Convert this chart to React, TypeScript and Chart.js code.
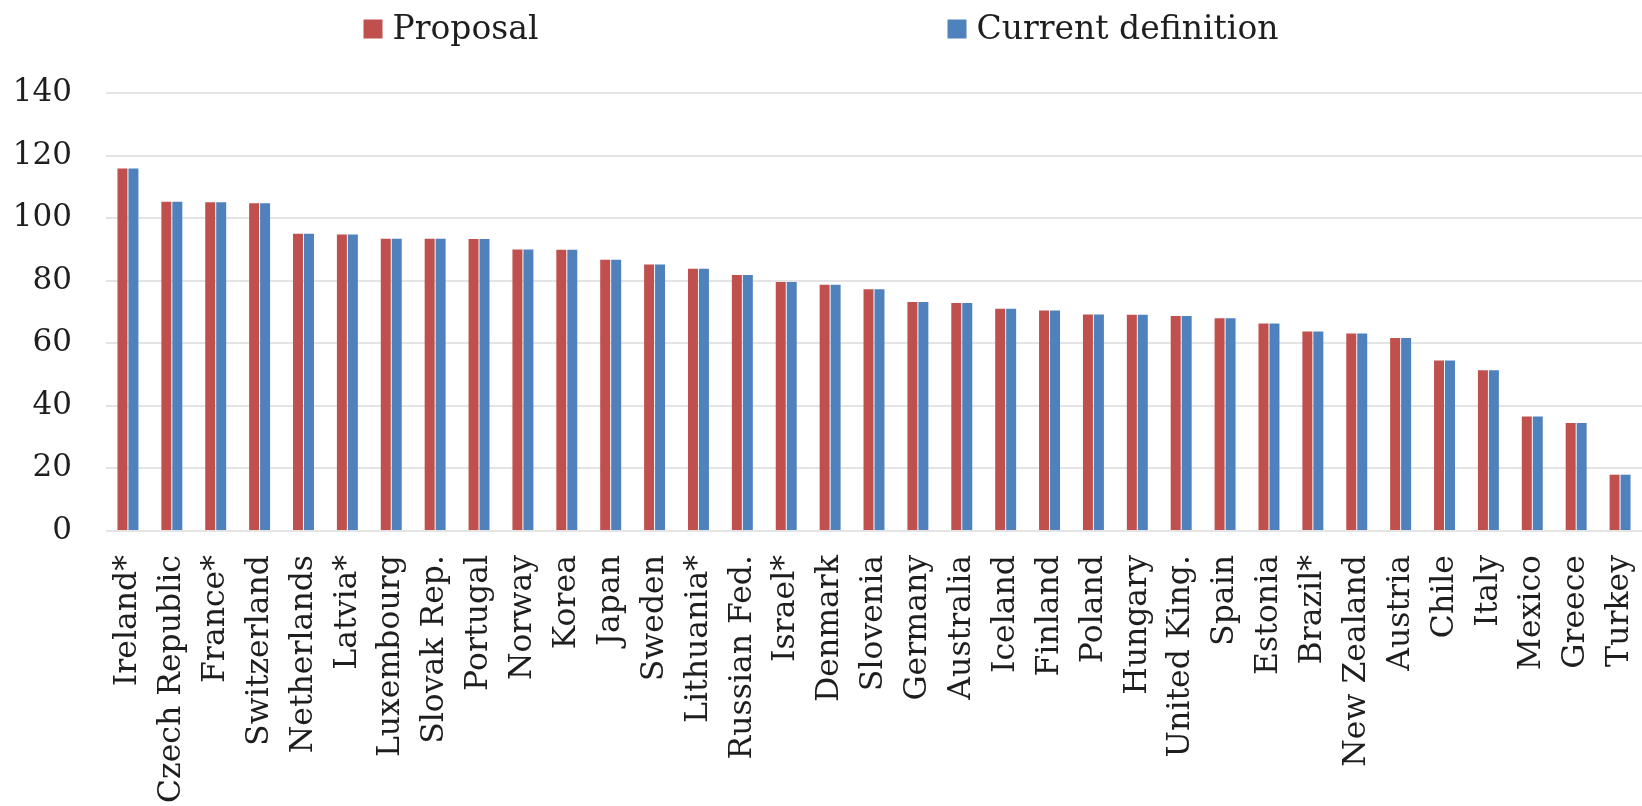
import React, { useEffect, useRef } from "react";
import { Chart, registerables } from "chart.js";

Chart.register(...registerables);

const categories: string[] = [
  "Ireland*", "Czech Republic", "France*", "Switzerland", "Netherlands", "Latvia*",
  "Luxembourg", "Slovak Rep.", "Portugal", "Norway", "Korea", "Japan", "Sweden",
  "Lithuania*", "Russian Fed.", "Israel*", "Denmark", "Slovenia", "Germany",
  "Australia", "Iceland", "Finland", "Poland", "Hungary", "United King.", "Spain",
  "Estonia", "Brazil*", "New Zealand", "Austria", "Chile", "Italy", "Mexico",
  "Greece", "Turkey",
];

const proposal: number[] = [
  115.9, 105.2, 105.1, 104.8, 95.0, 94.8, 93.4, 93.4, 93.3, 90.0, 89.9, 86.7, 85.2,
  83.8, 81.8, 79.6, 78.7, 77.3, 73.2, 72.9, 71.0, 70.5, 69.2, 69.1, 68.7, 68.0,
  66.3, 63.8, 63.1, 61.7, 54.5, 51.4, 36.6, 34.5, 18.0,
];

const currentDefinition: number[] = [
  115.9, 105.2, 105.1, 104.8, 95.0, 94.8, 93.4, 93.4, 93.3, 90.0, 89.9, 86.7, 85.2,
  83.8, 81.8, 79.6, 78.7, 77.3, 73.2, 72.9, 71.0, 70.5, 69.2, 69.1, 68.7, 68.0,
  66.3, 63.8, 63.1, 61.7, 54.5, 51.4, 36.6, 34.5, 18.0,
];

const seriesLabels: string[] = ["Proposal", "Current definition"];
const seriesColors: string[] = ["#C0504D", "#4F81BD"];

const FONT = "'DejaVu Serif', serif";
const TEXT = "#1e1e1e";

const legendPlugin = {
  id: "customLegend",
  afterDraw(chart: any) {
    const ctx = chart.ctx as CanvasRenderingContext2D;
    const W = chart.width;
    const box = 19;
    const boxGap = 10;
    const itemGap = 409;
    const fontSize = 33;
    const cy = 29;
    ctx.save();
    ctx.font = `${fontSize}px ${FONT}`;
    ctx.textBaseline = "middle";
    ctx.textAlign = "left";
    const items = chart.data.datasets.map((ds: any) => ({
      text: ds.label as string,
      color: ds.backgroundColor as string,
      w: box + boxGap + ctx.measureText(ds.label).width,
    }));
    const total = items.reduce((s: number, it: any) => s + it.w, 0) + itemGap * items.length;
    let x = (W + itemGap - total) / 2;
    for (const it of items) {
      ctx.fillStyle = it.color;
      ctx.fillRect(x, cy - box / 2, box, box);
      ctx.fillStyle = TEXT;
      ctx.fillText(it.text, x + box + boxGap, cy + 1);
      x += it.w + itemGap;
    }
    ctx.restore();
  },
};

export default function App() {
  const ref = useRef<HTMLCanvasElement | null>(null);

  useEffect(() => {
    if (!ref.current) return;
    const chart = new Chart(ref.current, {
      type: "bar",
      data: {
        labels: categories,
        datasets: [
          {
            label: seriesLabels[0],
            data: proposal,
            backgroundColor: seriesColors[0],
            categoryPercentage: 0.5,
            barPercentage: 0.91,
          },
          {
            label: seriesLabels[1],
            data: currentDefinition,
            backgroundColor: seriesColors[1],
            categoryPercentage: 0.5,
            barPercentage: 0.91,
          },
        ],
      },
      options: {
        responsive: false,
        animation: false,
        layout: { padding: { top: 93, left: 15, right: 0, bottom: 0 } },
        plugins: {
          legend: { display: false },
          tooltip: { enabled: false },
        },
        scales: {
          x: {
            grid: { display: false, drawTicks: false },
            border: { display: false },
            afterFit: (s: any) => {
              s.paddingLeft = 0;
              s.paddingRight = 0;
              s.height = 275;
            },
            ticks: {
              autoSkip: false,
              minRotation: 90,
              maxRotation: 90,
              padding: 24,
              color: TEXT,
              font: { family: FONT, size: 31.5 },
            },
          },
          y: {
            min: 0,
            max: 140,
            afterFit: (s: any) => {
              s.width = 91;
              s.paddingTop = 0;
              s.paddingBottom = 0;
            },
            grid: { color: "#e4e4e4", lineWidth: 2, drawTicks: false },
            border: { display: false },
            ticks: {
              stepSize: 20,
              padding: 34,
              color: TEXT,
              font: { family: FONT, size: 31 },
            },
          },
        },
      },
      plugins: [legendPlugin],
    });
    return () => chart.destroy();
  }, []);

  return (
    <div style={{ position: "fixed", left: 0, top: 0, width: 1642, height: 806, background: "#fff" }}>
      <canvas ref={ref} width={1642} height={806} style={{ display: "block" }} />
    </div>
  );
}
